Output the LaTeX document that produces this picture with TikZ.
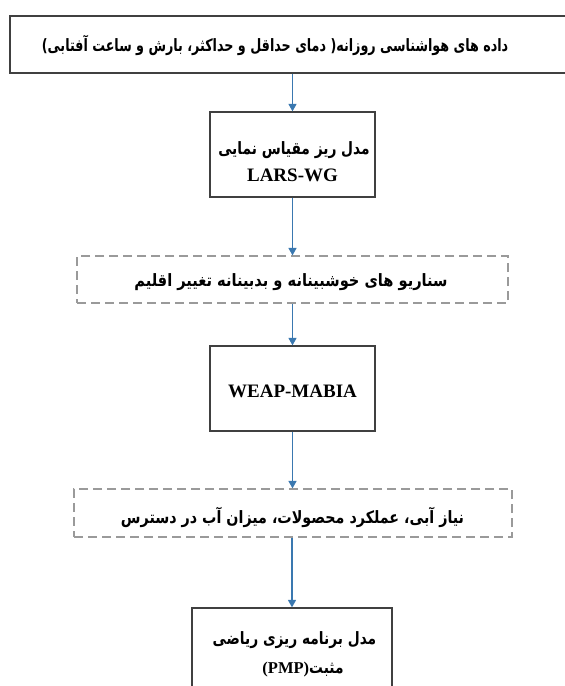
\documentclass[tikz,border=0pt]{standalone}
\usepackage{fontspec}
\usetikzlibrary{arrows.meta}
\setmainfont{Liberation Serif}
\newfontfamily\arabicfont[Script=Arabic]{DejaVu Sans}
\TeXXeTstate=1
\definecolor{arrowblue}{HTML}{3A78B0}
\definecolor{boxgray}{HTML}{404040}
\definecolor{dashgray}{HTML}{9A9A9A}
\newcommand{\fatext}[2]{\scalebox{#1}[1]{\arabicfont\bfseries\fontsize{17}{20}\selectfont #2}}
\tikzset{
  solidbox/.style={draw=boxgray, line width=1.3pt, inner sep=0pt, align=center},
  dashbox/.style={draw=dashgray, line width=1.2pt, dash pattern=on 9pt off 5pt, inner sep=0pt, align=center},
  flow/.style={draw=arrowblue, line width=1.5pt, -{Triangle[length=7.5pt,width=8pt]}},
  fa/.style={inner sep=0pt},
  la/.style={inner sep=0pt, font=\rmfamily\bfseries\fontsize{19}{22}\selectfont}
}
\begin{document}
\begin{tikzpicture}[x=1pt,y=-1pt]
\useasboundingbox (0,0) rectangle (565,686);
\clip (0,0) rectangle (565,686);
\node[solidbox, minimum width=590pt, minimum height=57pt] (top) at (305,44.5) {};
\node[fa] (toptext) at (275,45) {\fatext{0.748}{\beginR داده های هواشناسی روزانه( دمای حداقل و حداکثر، بارش و ساعت آفتابی)\endR}};
\node[solidbox, minimum width=165pt, minimum height=85pt] (lars) at (292.5,154.5) {};
\node[fa] (larsfa) at (294,150) {\fatext{0.81}{\beginR مدل ریز مقیاس نمایی\endR}};
\node[la] (larsen) at (292.5,175) {LARS-WG};
\node[dashbox, minimum width=431pt, minimum height=47pt] (scen) at (292.5,279.5) {};
\node[fa] (scentext) at (291,282) {\fatext{0.86}{\beginR سناریو های خوشبینانه و بدبینانه تغییر اقلیم\endR}};
\node[solidbox, minimum width=165pt, minimum height=85pt] (weap) at (292.5,388.5) {};
\node[la] (weaptext) at (292.5,391) {WEAP-MABIA};
\node[dashbox, minimum width=438pt, minimum height=48pt] (outp) at (293,513) {};
\node[fa] (outtext) at (292.5,517) {\fatext{0.84}{\beginR نیاز آبی، عملکرد محصولات، میزان آب در دسترس\endR}};
\node[solidbox, minimum width=200pt, minimum height=100pt] (pmp) at (292,658) {};
\node[fa] (pmpfa) at (294.5,640) {\fatext{0.81}{\beginR مدل برنامه ریزی ریاضی\endR}};
\node[fa] (pmpen) at (303,670) {{\rmfamily\bfseries\fontsize{16.5}{20}\selectfont(PMP)}\fatext{0.81}{\beginR مثبت\endR}};
\draw[flow] (top.south -| lars.north) -- (lars.north);
\draw[flow] (lars.south) -- (scen.north -| lars.south);
\draw[flow] (scen.south -| weap.north) -- (weap.north);
\draw[flow] (weap.south) -- (outp.north -| weap.south);
\draw[flow] (outp.south -| pmp.north) -- (pmp.north);
\end{tikzpicture}
\end{document}
